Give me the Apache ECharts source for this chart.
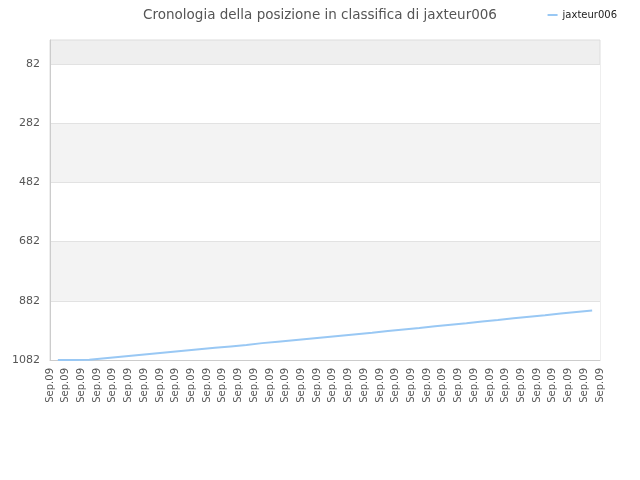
<!DOCTYPE html>
<html>
<head>
<meta charset="utf-8">
<script src="https://cdn.jsdelivr.net/npm/echarts@6/dist/echarts.min.js"></script>
<style>html,body{margin:0;padding:0;background:#fff}#c{width:640px;height:480px}</style>
</head>
<body>
<div id="c"></div>
<script>
const titleText = 'Cronologia della posizione in classifica di jaxteur006';
const seriesName = 'jaxteur006';
const tickLabels = ['Sep.09','Sep.09','Sep.09','Sep.09','Sep.09','Sep.09','Sep.09','Sep.09','Sep.09','Sep.09','Sep.09','Sep.09','Sep.09','Sep.09','Sep.09','Sep.09','Sep.09','Sep.09','Sep.09','Sep.09','Sep.09','Sep.09','Sep.09','Sep.09','Sep.09','Sep.09','Sep.09','Sep.09','Sep.09','Sep.09','Sep.09','Sep.09','Sep.09','Sep.09','Sep.09','Sep.09'];
const pointCategories = ['p1','p2','p3','p4','p5','p6','p7','p8','p9','p10','p11','p12','p13','p14','p15','p16','p17','p18','p19','p20','p21','p22','p23','p24','p25','p26','p27','p28','p29','p30','p31','p32','p33','p34','p35'];
const positions = [1082,1082,1081,1076,1071,1066,1061,1056,1051,1046,1041,1036,1031,1025,1020,1015,1010,1005,1000,995,990,984,979,974,968,963,958,952,947,941,936,931,925,920,915];
const yTicks = [82,282,482,682,882,1082];
const yMin = 1, yMax = 1082;

const chart = echarts.init(document.getElementById('c'), null, {renderer:'canvas'});
chart.setOption({
  animation: false,
  backgroundColor: '#fff',
  textStyle: {fontFamily: 'DejaVu Sans'},
  title: {
    text: titleText, left: 'center', top: 3,
    textStyle: {fontSize: 13.5, fontWeight: 'normal', color: '#555', fontFamily: 'DejaVu Sans'}
  },
  legend: {
    data: [seriesName], right: 18, top: 5, itemWidth: 10, itemHeight: 2, itemGap: 8,
    icon: 'rect',
    textStyle: {fontSize: 10, color: '#222', fontFamily: 'DejaVu Sans'}
  },
  grid: {left: 50, right: 40, top: 40, bottom: 120, show: true, backgroundColor: '#efefef', borderColor: '#dddddd', borderWidth: 1},
  xAxis: [
    {
      type: 'category', data: tickLabels, boundaryGap: false,
      axisLine: {lineStyle: {color: '#cccccc'}},
      axisTick: {show: false},
      axisLabel: {rotate: 90, interval: 0, fontSize: 10, color: '#555', margin: 8, fontFamily: 'DejaVu Sans'},
      splitLine: {show: false}
    },
    {
      type: 'category', data: pointCategories, boundaryGap: true, show: false
    }
  ],
  yAxis: {
    type: 'value', inverse: true, min: yMin, max: yMax,
    axisLine: {show: true, lineStyle: {color: '#cccccc'}},
    axisTick: {show: false, customValues: yTicks},
    axisLabel: {customValues: yTicks, fontSize: 11, color: '#555', margin: 10, fontFamily: 'DejaVu Sans', formatter: function (v) { return String(v); }},
    splitLine: {show: true, lineStyle: {color: '#e2e2e2', width: 1}},
    splitArea: {show: true, areaStyle: {color: ['#ffffff', '#f3f3f3']}}
  },
  series: [{
    name: seriesName, type: 'line', xAxisIndex: 1, data: positions,
    showSymbol: false, symbol: 'none',
    lineStyle: {color: '#99c8f4', width: 2},
    itemStyle: {color: '#99c8f4'}
  }]
});
</script>
</body>
</html>
